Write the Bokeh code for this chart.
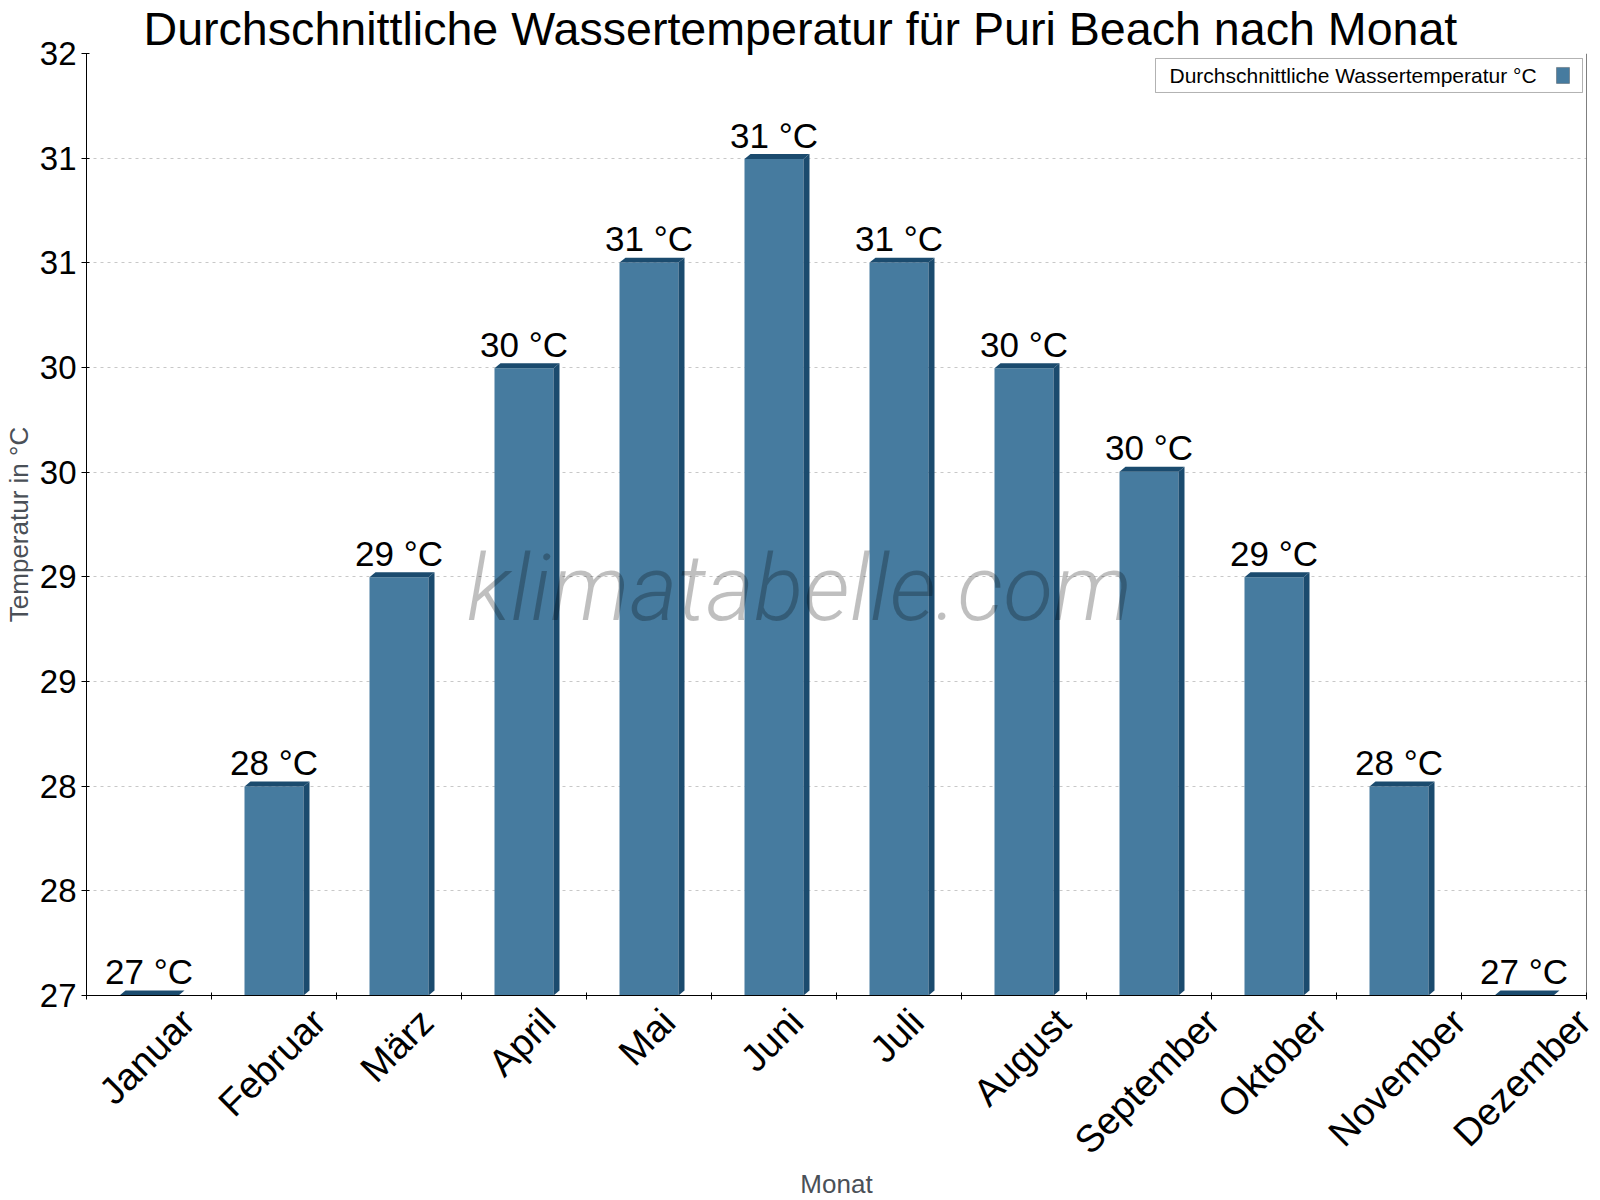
import math
from bokeh.plotting import figure
from bokeh.models import (Range1d, FixedTicker, CustomJSTickFormatter, NumeralTickFormatter,
                          Label, BoxAnnotation, Span)
from bokeh.core.properties import value
from bokeh.embed import file_html
from bokeh.resources import INLINE

# ---------------- data ----------------
months = ["Januar", "Februar", "März", "April", "Mai", "Juni",
          "Juli", "August", "September", "Oktober", "November", "Dezember"]
water_temp = [27.0, 28.11, 29.22, 30.33, 30.89, 31.44,
              30.89, 30.33, 29.78, 29.22, 28.11, 27.0]
y_ticks = [27.0, 27.556, 28.111, 28.667, 29.222, 29.778, 30.333, 30.889, 31.444, 32.0]
series_name = "Durchschnittliche Wassertemperatur °C"
x_title = "Monat"
y_title = "Temperatur in °C"

# ---------------- style ----------------
FRONT = "#467b9f"
DARK = "#1b4b6e"
FONT = "Liberation Sans"
AXIS_TITLE_COLOR = "#4a5057"
Y0, Y1 = 27.0, 32.0
X_LABEL_PX = 38
FRAME_W, FRAME_H = 1500, 942

# approximate Arial/Liberation Sans advance widths (em) used to centre rotated labels
ADV = {"J": .5, "a": .556, "n": .556, "u": .556, "r": .333, "F": .611, "e": .556, "b": .556,
       "M": .833, "ä": .556, "z": .5, "A": .667, "p": .556, "i": .222, "l": .222, "g": .556,
       "s": .5, "t": .278, "S": .667, "m": .833, "O": .778, "k": .5, "o": .556, "N": .722,
       "v": .5, "D": .722}

p = figure(frame_width=FRAME_W, frame_height=FRAME_H, x_range=Range1d(0, 12),
           y_range=Range1d(Y0, Y1), output_backend="svg", toolbar_location=None,
           min_border_left=85, min_border_right=15, min_border_top=53, min_border_bottom=205)
p.outline_line_color = None
p.background_fill_color = "white"
p.border_fill_color = "white"

# title
p.title.text = "Durchschnittliche Wassertemperatur für Puri Beach nach Monat"
p.title.text_font = FONT
p.title.text_font_size = "46.6px"
p.title.text_font_style = "normal"
p.title.text_color = "black"
p.title.align = "left"
p.title.offset = 57
p.title.standoff = -2

# bars (front face + pseudo-3D top and side)
bw = 0.472
dx = 0.048
dy = 0.0265
xc = [i + 0.5 for i in range(len(months))]
p.vbar(x=xc, top=water_temp, bottom=Y0, width=bw, fill_color=FRONT, line_color=None)
top_xs = [[c - bw / 2, c + bw / 2, c + bw / 2 + dx, c - bw / 2 + dx] for c in xc]
top_ys = [[v, v, v + dy, v + dy] for v in water_temp]
side_xs = [[c + bw / 2, c + bw / 2 + dx, c + bw / 2 + dx, c + bw / 2] for c in xc]
side_ys = [[v, v + dy, Y0 + dy, Y0] for v in water_temp]
p.patches(xs=top_xs + side_xs, ys=top_ys + side_ys, fill_color=DARK, line_color=None)

# value labels
labels = [f"{round(v)} °C" for v in water_temp]
p.text(x=xc, y=water_temp, text=labels, text_align="center", text_baseline="middle",
       y_offset=-24, text_font=value(FONT), text_font_size="35px", text_color="black")

# watermark
p.add_layout(Label(x=5.704, y=29.158, text="klimatabelle.com", text_align="center",
                   text_baseline="middle", text_font="Roboto Light, Roboto",
                   text_font_style="italic", text_font_size="92px",
                   text_color="black", text_alpha=0.25))

# axes
px_per_unit = FRAME_W / 12.0
shift = [(0.3535 * X_LABEL_PX * sum(ADV.get(ch, .556) for ch in m) - 2) / px_per_unit for m in months]
tick_pos = [c + s for c, s in zip(xc, shift)]
xa = p.xaxis[0]
xa.ticker = FixedTicker(ticks=tick_pos, minor_ticks=list(range(13)))
xa.formatter = CustomJSTickFormatter(
    args=dict(months=months, pos=tick_pos),
    code="""
let best = 0;
for (let i = 1; i < pos.length; i++) {
  if (Math.abs(pos[i] - tick) < Math.abs(pos[best] - tick)) best = i;
}
return months[best];
""")
xa.major_label_orientation = math.pi / 4
xa.major_label_text_font = FONT
xa.major_label_text_font_size = f"{X_LABEL_PX}px"
xa.major_label_text_color = "black"
xa.major_label_standoff = 14
xa.major_tick_line_color = None
xa.minor_tick_line_color = "black"
xa.minor_tick_in = 3
xa.minor_tick_out = 4
xa.axis_line_color = "black"
xa.axis_label = x_title
xa.axis_label_text_font = FONT
xa.axis_label_text_font_size = "26px"
xa.axis_label_text_font_style = "normal"
xa.axis_label_text_color = AXIS_TITLE_COLOR
xa.axis_label_standoff = -11

ya = p.yaxis[0]
ya.ticker = FixedTicker(ticks=y_ticks)
ya.formatter = NumeralTickFormatter(format="0")
ya.major_label_text_font = FONT
ya.major_label_text_font_size = "33px"
ya.major_label_text_color = "black"
ya.major_tick_in = 3
ya.major_tick_out = 5
ya.minor_tick_line_color = None
ya.axis_line_color = "black"
ya.axis_label = y_title
ya.axis_label_text_font = FONT
ya.axis_label_text_font_size = "26px"
ya.axis_label_text_font_style = "normal"
ya.axis_label_text_color = AXIS_TITLE_COLOR
ya.axis_label_standoff = 3

p.xgrid.grid_line_color = None
p.ygrid.grid_line_color = "#c8c8c8"
p.ygrid.grid_line_dash = "3 4"

# right border line
p.add_layout(Span(location=12, dimension="height", line_color="black", line_width=1))

# legend (swatch on the right of the text, as in the original)
p.add_layout(BoxAnnotation(left=8.552, right=11.968, top=31.9735, bottom=31.793,
                           fill_color="white", fill_alpha=1.0, line_color="black", line_width=1))
p.add_layout(Label(x=8.664, y=31.883, text=series_name, text_baseline="middle",
                   text_font=FONT, text_font_size="21px", text_color="black"))
p.add_layout(BoxAnnotation(left=11.76, right=11.864, top=31.926, bottom=31.841,
                           fill_color=FRONT, fill_alpha=1.0, line_color="#222222", line_width=1))

open("out.html", "w").write(file_html(p, INLINE))
